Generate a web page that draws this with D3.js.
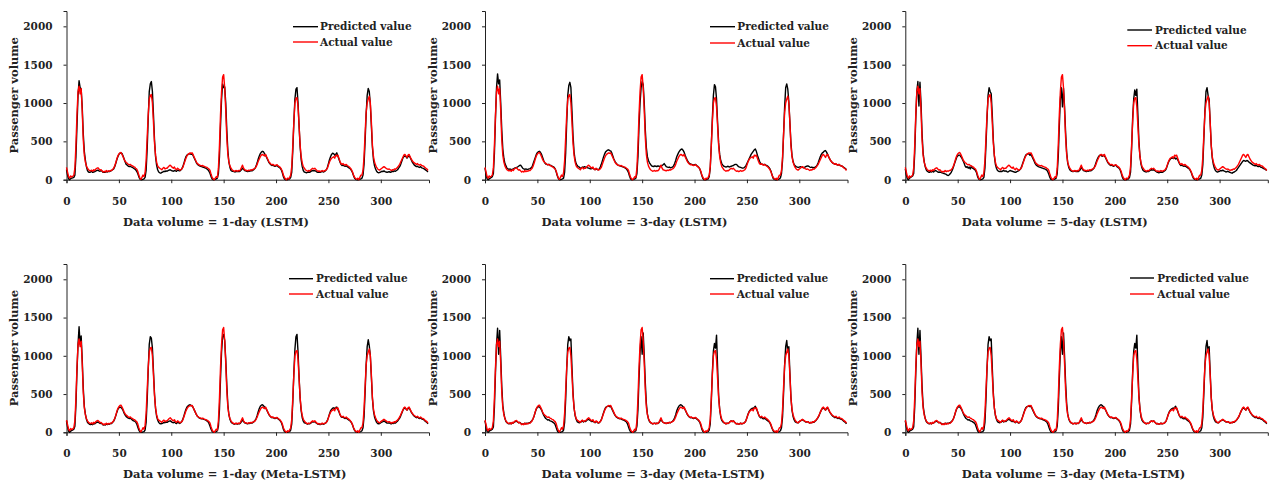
<!DOCTYPE html>
<html>
<head>
<meta charset="utf-8">
<script src="https://cdn.jsdelivr.net/npm/d3@7"></script>
<style>
  html, body { margin: 0; padding: 0; background: #fff; }
  svg { display: block; }
  text { font-family: "DejaVu Serif", "Liberation Serif", serif; font-weight: bold; fill: #222; }
</style>
</head>
<body>
<svg id="chart" width="1271" height="484"></svg>
<script>
// ---------------- DATA ----------------
const xTicks = [0, 50, 100, 150, 200, 250, 300];
const yTicks = [0, 500, 1000, 1500, 2000];
const legendLabels = ["Predicted value", "Actual value"];
const yTitle = "Passenger volume";
const panelTitles = [
  "Data volume = 1-day (LSTM)",
  "Data volume = 3-day (LSTM)",
  "Data volume = 5-day (LSTM)",
  "Data volume = 1-day (Meta-LSTM)",
  "Data volume = 3-day (Meta-LSTM)",
  "Data volume = 3-day (Meta-LSTM)"
];

const actual = [
160,100,40,20,50,35,45,60,150,450,850,1150,1220,1120,1190,900,520,320,230,180,150,
130,120,115,125,110,130,120,140,150,155,140,125,130,115,100,110,100,120,105,115,110,120,120,135,150,
180,220,270,310,335,350,355,330,300,265,240,225,215,200,195,200,185,180,170,165,150,140,110,60,25,
5,30,60,40,90,250,550,850,1050,1100,1110,1000,750,480,320,230,180,160,150,140,
130,150,160,140,150,150,165,180,190,175,160,150,165,140,130,150,140,125,130,140,160,200,240,280,310,
330,340,350,345,350,320,290,260,230,210,200,190,185,180,185,175,170,165,160,150,140,120,70,30,10,
0,20,40,30,150,450,850,1150,1340,1370,1200,900,550,330,230,180,150,130,
120,110,115,120,110,120,115,130,160,190,150,130,125,120,115,125,120,130,125,135,140,150,170,200,240,
270,300,320,330,320,310,330,300,270,240,220,205,195,200,190,185,190,195,180,170,160,140,110,60,30,10,
0,20,10,30,60,170,450,750,1000,1060,1070,950,700,450,300,220,170,150,
130,120,110,120,115,125,140,150,140,150,135,120,110,115,105,110,120,110,115,120,130,150,190,230,260,
280,290,300,280,320,310,320,280,240,210,200,210,195,190,200,185,175,165,150,130,100,60,30,15,5,20,0,
30,60,60,120,300,600,880,1000,1050,1090,1000,750,450,300,230,190,160,140,130,
125,140,150,160,170,160,150,140,135,140,130,120,130,125,140,135,150,160,180,200,230,260,290,320,330,
310,290,320,330,300,270,250,230,220,210,200,210,195,190,200,185,180,175,160,150,140,120
];

const predLSTM1 = [
130,60,10,0,15,20,25,30,60,300,700,1100,1290,1200,1180,950,600,370,260,170,120,
100,95,100,110,95,100,105,115,120,125,115,110,120,110,95,100,95,105,100,110,105,115,120,130,140,
170,210,260,300,330,345,350,340,310,270,230,200,190,175,170,175,165,160,150,140,130,110,80,40,10,
0,0,5,10,30,120,400,800,1150,1250,1280,1150,850,520,300,190,130,100,90,85,
95,100,110,105,115,110,120,125,130,120,115,110,120,115,110,125,120,115,125,140,170,210,260,300,320,
330,335,340,330,335,310,280,250,220,200,190,180,175,170,165,160,155,150,140,130,110,80,40,10,0,
0,5,10,20,80,300,700,1050,1250,1200,1210,1000,650,380,230,160,120,110,
110,105,100,110,105,110,105,115,130,150,135,120,115,110,105,115,110,120,115,125,135,150,180,220,270,
310,340,360,370,365,340,320,290,260,230,210,195,185,190,180,175,180,185,170,160,150,130,90,40,10,0,
0,0,5,10,30,100,380,750,1050,1180,1200,1000,700,430,260,170,120,100,
95,90,95,100,95,105,115,120,115,120,110,100,95,100,95,100,110,100,105,115,130,160,210,260,300,
330,345,340,320,330,350,310,270,230,200,185,190,180,175,180,170,160,150,140,120,90,50,20,5,0,0,0,
5,10,20,60,200,500,850,1100,1190,1150,980,700,420,260,180,140,110,95,90,
95,100,110,105,115,105,100,95,100,105,95,100,110,105,115,110,120,130,150,170,200,240,280,300,310,
300,280,300,310,290,260,230,210,190,180,170,175,165,160,170,155,150,145,135,125,115,100
];

const predLSTM3 = [
150,70,10,0,10,20,30,40,80,350,800,1200,1380,1250,1300,1000,650,400,280,210,180,
150,140,135,140,130,135,140,150,155,160,165,175,185,190,170,150,140,135,140,135,135,140,145,155,170,
210,250,290,330,355,365,370,355,330,290,250,220,205,200,195,200,190,185,175,170,160,140,100,50,15,
0,0,5,10,20,100,350,750,1100,1230,1270,1200,900,580,360,260,210,185,170,165,
150,155,165,160,170,165,160,155,150,145,140,145,150,140,130,140,135,130,140,165,200,245,290,330,360,
375,385,390,380,375,350,310,270,240,220,200,190,185,180,175,170,165,160,150,140,120,90,45,10,0,
0,5,10,20,80,300,700,1000,1200,1280,1240,1000,650,420,300,250,220,200,
180,175,170,180,175,170,180,175,170,180,185,195,210,190,170,165,160,165,155,160,165,180,210,250,300,
330,360,380,395,400,385,360,320,285,255,230,215,205,200,195,190,195,200,185,175,160,140,100,50,15,0,
0,0,5,10,40,150,450,800,1100,1240,1210,1050,750,480,330,250,210,190,
175,170,165,170,175,165,170,175,180,185,195,200,200,185,170,165,160,155,150,155,165,180,210,240,270,
300,330,350,370,390,400,370,320,280,240,215,205,200,195,200,190,185,175,160,140,110,60,20,5,0,0,0,
5,10,25,80,250,600,950,1200,1250,1180,1020,750,480,320,240,200,180,170,165,
160,165,170,165,160,155,160,170,175,180,175,165,160,165,155,160,160,170,190,220,260,300,330,350,360,
375,380,360,330,300,270,250,230,215,210,200,205,195,190,200,185,180,175,165,155,145,130
];

const predLSTM5 = [
140,60,10,0,20,30,40,50,80,350,800,1150,1280,960,1270,1000,600,350,240,170,130,
110,100,95,105,100,110,100,115,120,110,100,95,100,95,90,85,80,75,70,60,55,65,80,100,130,
170,210,250,290,310,320,320,300,280,250,220,180,160,170,150,165,140,175,150,145,135,120,90,40,10,
0,0,5,10,30,150,450,800,1100,1200,1150,1120,850,520,310,200,150,120,110,105,
110,105,115,120,110,115,105,100,110,120,115,110,105,100,95,100,110,115,125,140,170,210,250,290,320,
330,340,335,320,330,300,270,240,210,190,180,170,165,160,155,150,145,140,135,125,105,70,30,5,0,
0,5,10,20,80,300,700,1050,1200,950,1190,950,620,360,220,160,130,115,
110,105,110,115,105,110,105,115,130,160,140,120,115,110,105,115,110,120,115,125,135,150,180,220,260,
290,310,320,315,305,320,310,290,260,230,210,195,185,190,180,175,185,190,170,160,150,130,90,40,10,0,
0,0,5,10,30,100,400,800,1050,1170,1100,1180,850,500,300,200,150,120,
110,105,100,110,105,115,125,130,125,130,120,110,100,95,90,95,100,95,100,110,120,140,180,220,250,
270,280,285,275,290,270,280,260,230,200,185,190,180,175,180,170,160,150,140,120,90,50,20,5,0,0,0,
5,10,20,60,200,550,900,1150,1200,1100,1050,750,450,280,200,150,120,105,100,
105,110,120,115,125,115,110,100,105,110,100,95,90,85,95,100,110,120,140,160,180,200,220,240,250,
245,240,250,245,230,220,210,200,190,185,180,190,175,170,180,165,160,155,145,140,130,120
];

const predMeta1 = [
150,70,15,0,15,25,30,40,80,350,800,1150,1380,1150,1260,950,580,340,240,170,130,
115,105,100,110,100,115,110,125,130,135,125,115,120,110,95,100,95,110,100,110,105,115,115,130,145,
175,215,260,300,320,330,325,310,285,250,225,205,195,185,180,185,170,160,150,145,135,110,70,30,5,
0,0,5,10,30,130,420,820,1150,1250,1230,1100,800,500,310,210,160,130,115,110,
115,120,130,125,135,130,140,145,150,140,130,125,135,120,115,130,125,115,125,140,170,210,260,300,330,
345,355,360,350,345,320,290,260,230,210,195,185,180,175,175,170,165,160,150,140,115,80,40,10,0,
0,5,10,20,80,300,700,1050,1250,1280,1200,950,620,360,230,170,135,120,
115,105,110,115,105,115,110,120,140,165,140,125,120,115,110,120,115,125,120,130,140,155,180,220,270,
310,340,355,360,350,330,320,295,265,235,215,200,190,195,185,180,185,190,175,165,150,130,90,40,10,0,
0,0,5,10,30,110,400,780,1080,1250,1280,1050,720,440,280,190,145,125,
120,115,105,115,110,120,130,140,135,140,125,115,105,110,100,105,115,105,110,120,130,155,195,240,280,
300,315,320,310,325,330,300,270,230,205,195,200,185,180,190,175,165,155,145,125,95,55,25,5,0,0,0,
5,10,20,60,200,520,880,1120,1210,1130,1000,720,440,280,200,160,130,115,110,
115,125,135,140,150,140,130,120,120,125,115,110,120,115,125,120,135,145,165,185,215,250,285,310,320,
305,290,310,320,295,265,245,225,210,200,190,200,185,180,190,175,170,165,150,140,130,110
];

const predMeta3 = [
150,70,10,0,15,25,30,40,70,330,780,1150,1360,1020,1330,980,600,350,250,180,140,
125,115,110,120,110,125,120,135,140,145,135,125,130,120,105,110,105,120,110,120,115,125,125,140,155,
180,220,265,305,325,335,330,315,290,255,225,200,180,170,160,165,150,145,140,130,120,100,60,20,0,
0,0,5,10,30,130,430,830,1150,1250,1200,1220,850,520,320,220,170,140,130,125,
130,140,150,135,145,140,155,165,170,160,150,140,150,135,125,140,135,120,125,140,165,205,250,290,320,
335,340,345,335,340,310,280,250,225,205,195,185,180,175,175,165,160,155,145,135,110,70,30,5,0,
0,5,10,20,80,300,700,1050,1250,1020,1300,1000,650,380,240,175,140,125,
120,110,115,120,110,120,115,125,145,170,145,130,125,120,115,125,120,130,125,135,145,160,190,230,280,
315,340,355,360,350,335,320,295,265,235,215,200,190,195,185,180,185,190,175,165,150,130,90,40,10,0,
0,0,5,10,30,110,400,780,1060,1160,1100,1270,850,480,300,200,155,135,
125,120,110,120,115,125,140,150,140,150,135,120,110,115,105,110,120,110,115,120,130,150,190,235,270,
290,305,315,310,325,340,310,275,235,205,190,195,180,175,185,170,160,150,140,120,90,50,20,5,0,0,0,
5,10,20,60,200,520,880,1120,1200,1050,1120,780,460,290,210,165,140,130,125,
125,140,150,155,165,155,145,135,135,140,130,120,130,125,135,130,145,155,175,195,225,260,290,310,320,
305,290,310,320,295,265,245,225,210,200,190,200,185,180,190,175,170,165,150,140,130,110
];

const predictedByPanel = [predLSTM1, predLSTM3, predLSTM5, predMeta1, predMeta3, predMeta3];

// ---------------- LAYOUT ----------------
const colX = [66.5, 485, 905.3];
const rowY = [{top: 11, bottom: 179.7}, {top: 264, bottom: 432.3}];
const plotW = 362.5;
// legend offsets per panel: [lineStart dx, lineEnd dx, text dx, y1 dy, y2 dy] relative to axis origin (x0, top)
const legendPos = [
  [226.5, 251.5, 253.5, 15.7, 31],
  [225, 250, 252.3, 15.7, 32],
  [222, 246.7, 249.8, 19, 34.7],
  [222.5, 246.5, 249.5, 14.7, 30],
  [225, 249, 251.7, 14.7, 30],
  [224.7, 248.7, 252, 14, 30]
];

const svg = d3.select("#chart");
const FS_TICK = 10.5, FS_LEG = 10.5, FS_XT = 11.5, FS_YT = 11.5;

for (let p = 0; p < 6; p++) {
  const col = p % 3, row = Math.floor(p / 3);
  const x0 = colX[col];
  const {top, bottom} = rowY[row];
  const g = svg.append("g");

  const x = d3.scaleLinear().domain([0, 346]).range([x0, x0 + plotW]);
  const y = d3.scaleLinear().domain([0, 2200]).range([bottom, top]);

  const xAxis = d3.axisBottom(x).tickValues(xTicks).tickSize(3.5).tickPadding(18).tickFormat(d3.format("d"));
  const yAxis = d3.axisLeft(y).tickValues(yTicks).tickSize(3).tickPadding(11).tickFormat(d3.format("d"));

  const gx = g.append("g").attr("transform", `translate(0,${bottom})`).call(xAxis);
  const gy = g.append("g").attr("transform", `translate(${x0},0)`).call(yAxis);
  [gx, gy].forEach(a => {
    a.select(".domain").attr("stroke", "#222").attr("stroke-width", 1);
    a.selectAll(".tick line").attr("stroke", "#222");
    a.selectAll(".tick text")
      .attr("font-family", '"DejaVu Serif", serif')
      .attr("font-weight", "bold")
      .attr("font-size", FS_TICK)
      .attr("fill", "#222");
  });
  gx.selectAll(".tick text").attr("dy", "0.35em");

  const line = d3.line().x((d, i) => x(i)).y(d => y(d));
  g.append("path").datum(predictedByPanel[p])
    .attr("d", line).attr("fill", "none").attr("stroke", "#000").attr("stroke-width", 1.4)
    .attr("stroke-linejoin", "round");
  g.append("path").datum(actual)
    .attr("d", line).attr("fill", "none").attr("stroke", "#ff0000").attr("stroke-width", 1.4)
    .attr("stroke-linejoin", "round");

  const L = legendPos[p];
  const legColors = ["#000", "#ff0000"];
  [0, 1].forEach(k => {
    const ly = top + (k === 0 ? L[3] : L[4]);
    g.append("line").attr("x1", x0 + L[0]).attr("x2", x0 + L[1]).attr("y1", ly).attr("y2", ly)
      .attr("stroke", legColors[k]).attr("stroke-width", 1.4);
    g.append("text").attr("x", x0 + L[2]).attr("y", ly).attr("dy", "0.35em")
      .attr("font-size", FS_LEG).text(legendLabels[k]);
  });

  g.append("text").attr("x", x0 + 56.5).attr("y", bottom + 46)
    .attr("font-size", FS_XT).text(panelTitles[p]);

  g.append("text")
    .attr("transform", `translate(${x0 - 52.5},${(top + bottom) / 2}) rotate(-90)`)
    .attr("text-anchor", "middle").attr("dy", "0.35em")
    .attr("font-size", FS_YT).text(yTitle);
}
</script>
</body>
</html>
